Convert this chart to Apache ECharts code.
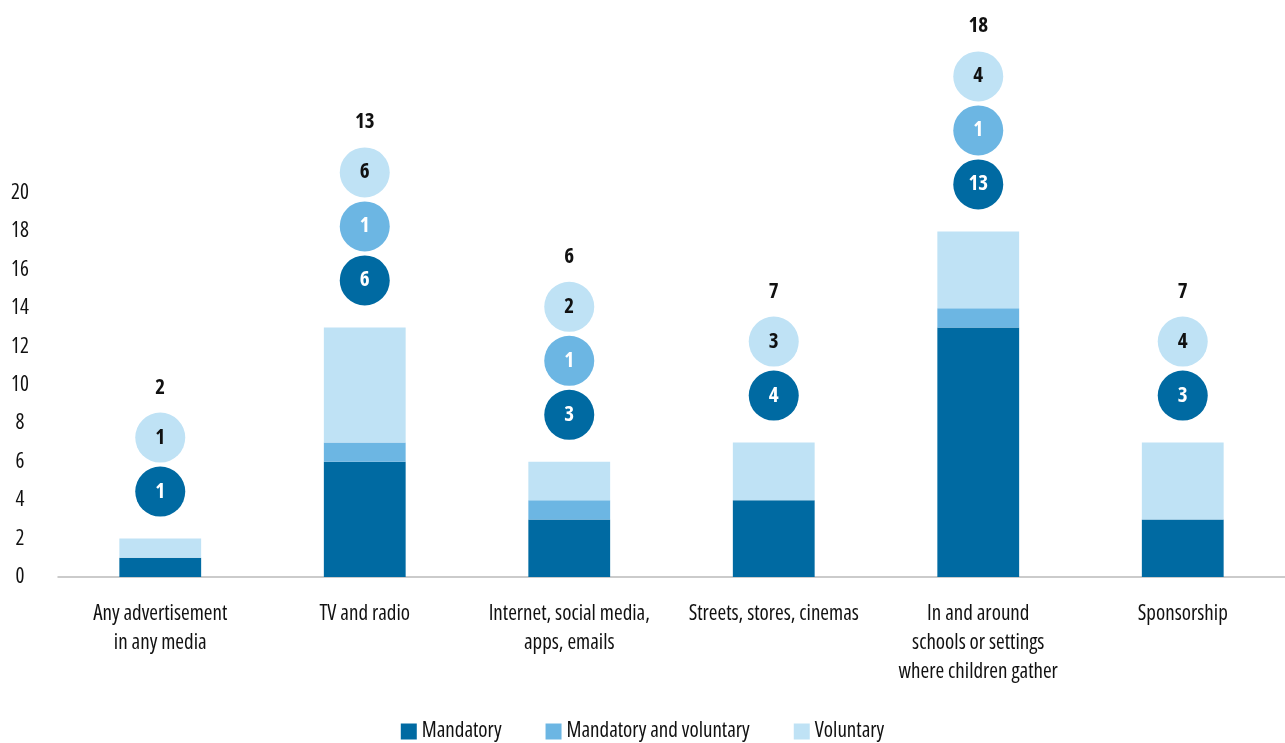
<!DOCTYPE html>
<html>
<head>
<meta charset="utf-8">
<script src="https://cdn.jsdelivr.net/npm/echarts@6/dist/echarts.min.js"></script>
<style>
  html, body { margin: 0; padding: 0; background: #fff; }
  #main { width: 1285px; height: 743px; }
</style>
</head>
<body>
<div id="main"></div>
<script>
var categories = [
  'Any advertisement\nin any media',
  'TV and radio',
  'Internet, social media,\napps, emails',
  'Streets, stores, cinemas',
  'In and around\nschools or settings\nwhere children gather',
  'Sponsorship'
];
var seriesNames = ['Mandatory', 'Mandatory and voluntary', 'Voluntary'];
var mandatory = [1, 6, 3, 4, 13, 3];
var mandVol = [0, 1, 1, 0, 1, 0];
var voluntary = [1, 6, 2, 3, 4, 4];
var yTicksShown = 20; // labels stop at 20, space above holds the circles

var colors = ['#006aa2', '#6cb6e3', '#bfe2f5'];
var textColors = ['#ffffff', '#ffffff', '#111111'];
var font = '"Open Sans", sans-serif';
// condensed width of Open Sans, passed through fontStyle
var stretch = 'condensed';

var chart = echarts.init(document.getElementById('main'));

// rows for the circle markers: [index, total, m, mv, v]
var circleData = categories.map(function (c, i) {
  return [i, mandatory[i] + mandVol[i] + voluntary[i], mandatory[i], mandVol[i], voluntary[i]];
});

function renderCircles(params, api) {
  var idx = api.value(0);
  var total = api.value(1);
  var vals = [api.value(2), api.value(3), api.value(4)];
  var pt = api.coord([idx, total]);
  var children = [];
  var k = 0;
  var y = pt[1];
  for (var s = 0; s < 3; s++) {
    if (!vals[s]) continue;
    y = pt[1] - 47 - 54 * k;
    children.push({
      type: 'circle',
      shape: { cx: pt[0], cy: y, r: 25 },
      style: { fill: colors[s] }
    });
    children.push({
      type: 'text',
      x: pt[0], y: y,
      style: {
        text: String(vals[s]), fill: textColors[s],
        font: stretch + ' bold 21px ' + font, align: 'center', verticalAlign: 'middle'
      }
    });
    k++;
  }
  children.push({
    type: 'text',
    x: pt[0], y: y - 50,
    style: {
      text: String(total), fill: '#111',
      font: stretch + ' bold 21px ' + font, align: 'center', verticalAlign: 'middle'
    }
  });
  return { type: 'group', children: children };
}

var option = {
  animation: false,
  textStyle: { fontFamily: font, fontStyle: stretch },
  grid: { left: 58, right: 0, top: 1, bottom: 166 },
  legend: {
    data: seriesNames,
    top: 716,
    left: 'center',
    icon: 'rect',
    itemWidth: 16,
    itemHeight: 16,
    itemGap: 44,
    textStyle: { fontSize: 21, color: '#111', fontFamily: font, fontStyle: stretch }
  },
  xAxis: {
    type: 'category',
    data: categories,
    axisLine: { lineStyle: { color: '#bbbbbb', width: 1.5 } },
    axisTick: { show: false },
    axisLabel: { margin: 23, fontSize: 21, lineHeight: 29, color: '#111', fontFamily: font, fontStyle: stretch, interval: 0 }
  },
  yAxis: {
    type: 'value',
    min: 0, max: 30, interval: 2,
    splitLine: { show: false },
    axisLine: { show: false },
    axisTick: { show: false },
    axisLabel: {
      fontSize: 21, color: '#111', fontFamily: font, fontStyle: stretch, align: 'center', margin: 38,
      formatter: function (v) { return v <= yTicksShown ? String(v) : ''; }
    }
  },
  series: [
    { name: seriesNames[0], type: 'bar', stack: 'a', data: mandatory, barWidth: '40%', itemStyle: { color: colors[0] } },
    { name: seriesNames[1], type: 'bar', stack: 'a', data: mandVol, barWidth: '40%', itemStyle: { color: colors[1] } },
    { name: seriesNames[2], type: 'bar', stack: 'a', data: voluntary, barWidth: '40%', itemStyle: { color: colors[2] } },
    { type: 'custom', renderItem: renderCircles, data: circleData, z: 5 }
  ]
};
chart.setOption(option);
</script>
</body>
</html>
